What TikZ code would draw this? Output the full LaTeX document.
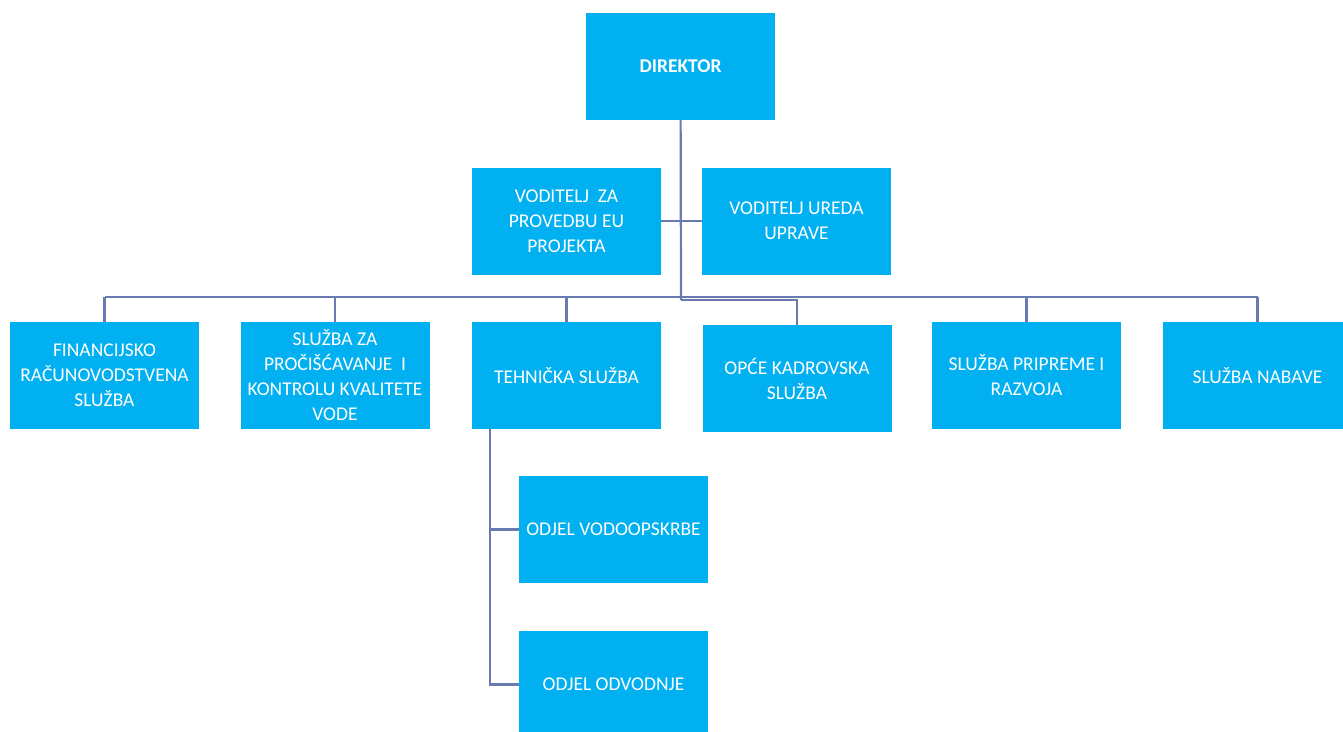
\documentclass[tikz,border=0pt]{standalone}
\usepackage{fontspec}
\setmainfont{Carlito}
\usetikzlibrary{shapes}
\definecolor{org_cyan}{RGB}{0, 176, 240}
\definecolor{org_line}{RGB}{104, 122, 176}
\tikzstyle{ob}=[rectangle,fill=org_cyan,text=white,align=center,
  inner sep=2pt,minimum width=189pt,minimum height=107pt,
  font=\fontsize{19.5}{25}\selectfont]
\tikzstyle{cn}=[draw=org_line,line width=2.2pt]

\begin{document}
\begin{tikzpicture}[x=1pt,y=-1pt]
    \useasboundingbox (0,0) rectangle (1343,731);
    %\begin{pgfonlayer}{nodelayer}
    \node [style=ob] (dir) at (680.5, 66.5) {\textbf{DIREKTOR}};
    \node [style=ob] (vza) at (566.5, 221) {VODITELJ\ \ ZA\\PROVEDBU EU\\PROJEKTA};
    \node [style=ob] (vur) at (796.5, 221) {VODITELJ UREDA\\UPRAVE};
    \node [style=ob] (fin) at (104.5, 375.5) {FINANCIJSKO\\RAČUNOVODSTVENA\\SLUŽBA};
    \node [style=ob] (sz) at (335, 375.5) {SLUŽBA ZA\\PROČIŠĆAVANJE\ \ I\\KONTROLU KVALITETE\\VODE};
    \node [style=ob] (teh) at (566.5, 375.5) {TEHNIČKA SLUŽBA};
    \node [style=ob] (opc) at (797, 378.5) {OPĆE KADROVSKA\\SLUŽBA};
    \node [style=ob] (prip) at (1026.5, 375.5) {SLUŽBA PRIPREME I\\RAZVOJA};
    \node [style=ob] (nab) at (1257.5, 375.5) {SLUŽBA NABAVE};
    \node [style=ob] (vod) at (613.5, 529.5) {ODJEL VODOOPSKRBE};
    \node [style=ob] (odv) at (613.5, 684.5) {ODJEL ODVODNJE};
    \coordinate (bus) at (681, 300);
    \coordinate (bl) at (105, 297);
    \coordinate (br) at (1258, 297);
    \coordinate (t0) at (490, 429);
    %\end{pgfonlayer}
    %\begin{pgfonlayer}{edgelayer}
    \draw [style=cn] (dir) to (bus);
    \draw [style=cn] (bus) -| (opc);
    \draw [style=cn] (vza) to (vur);
    \draw [style=cn] (bl) to (br);
    \foreach \n in {fin, sz, teh, prip, nab}
      \draw [style=cn] (\n.north) to (\n.north |- bl);
    \draw [style=cn] (t0) |- (vod);
    \draw [style=cn] (t0) |- (odv);
    %\end{pgfonlayer}
\end{tikzpicture}
\end{document}
